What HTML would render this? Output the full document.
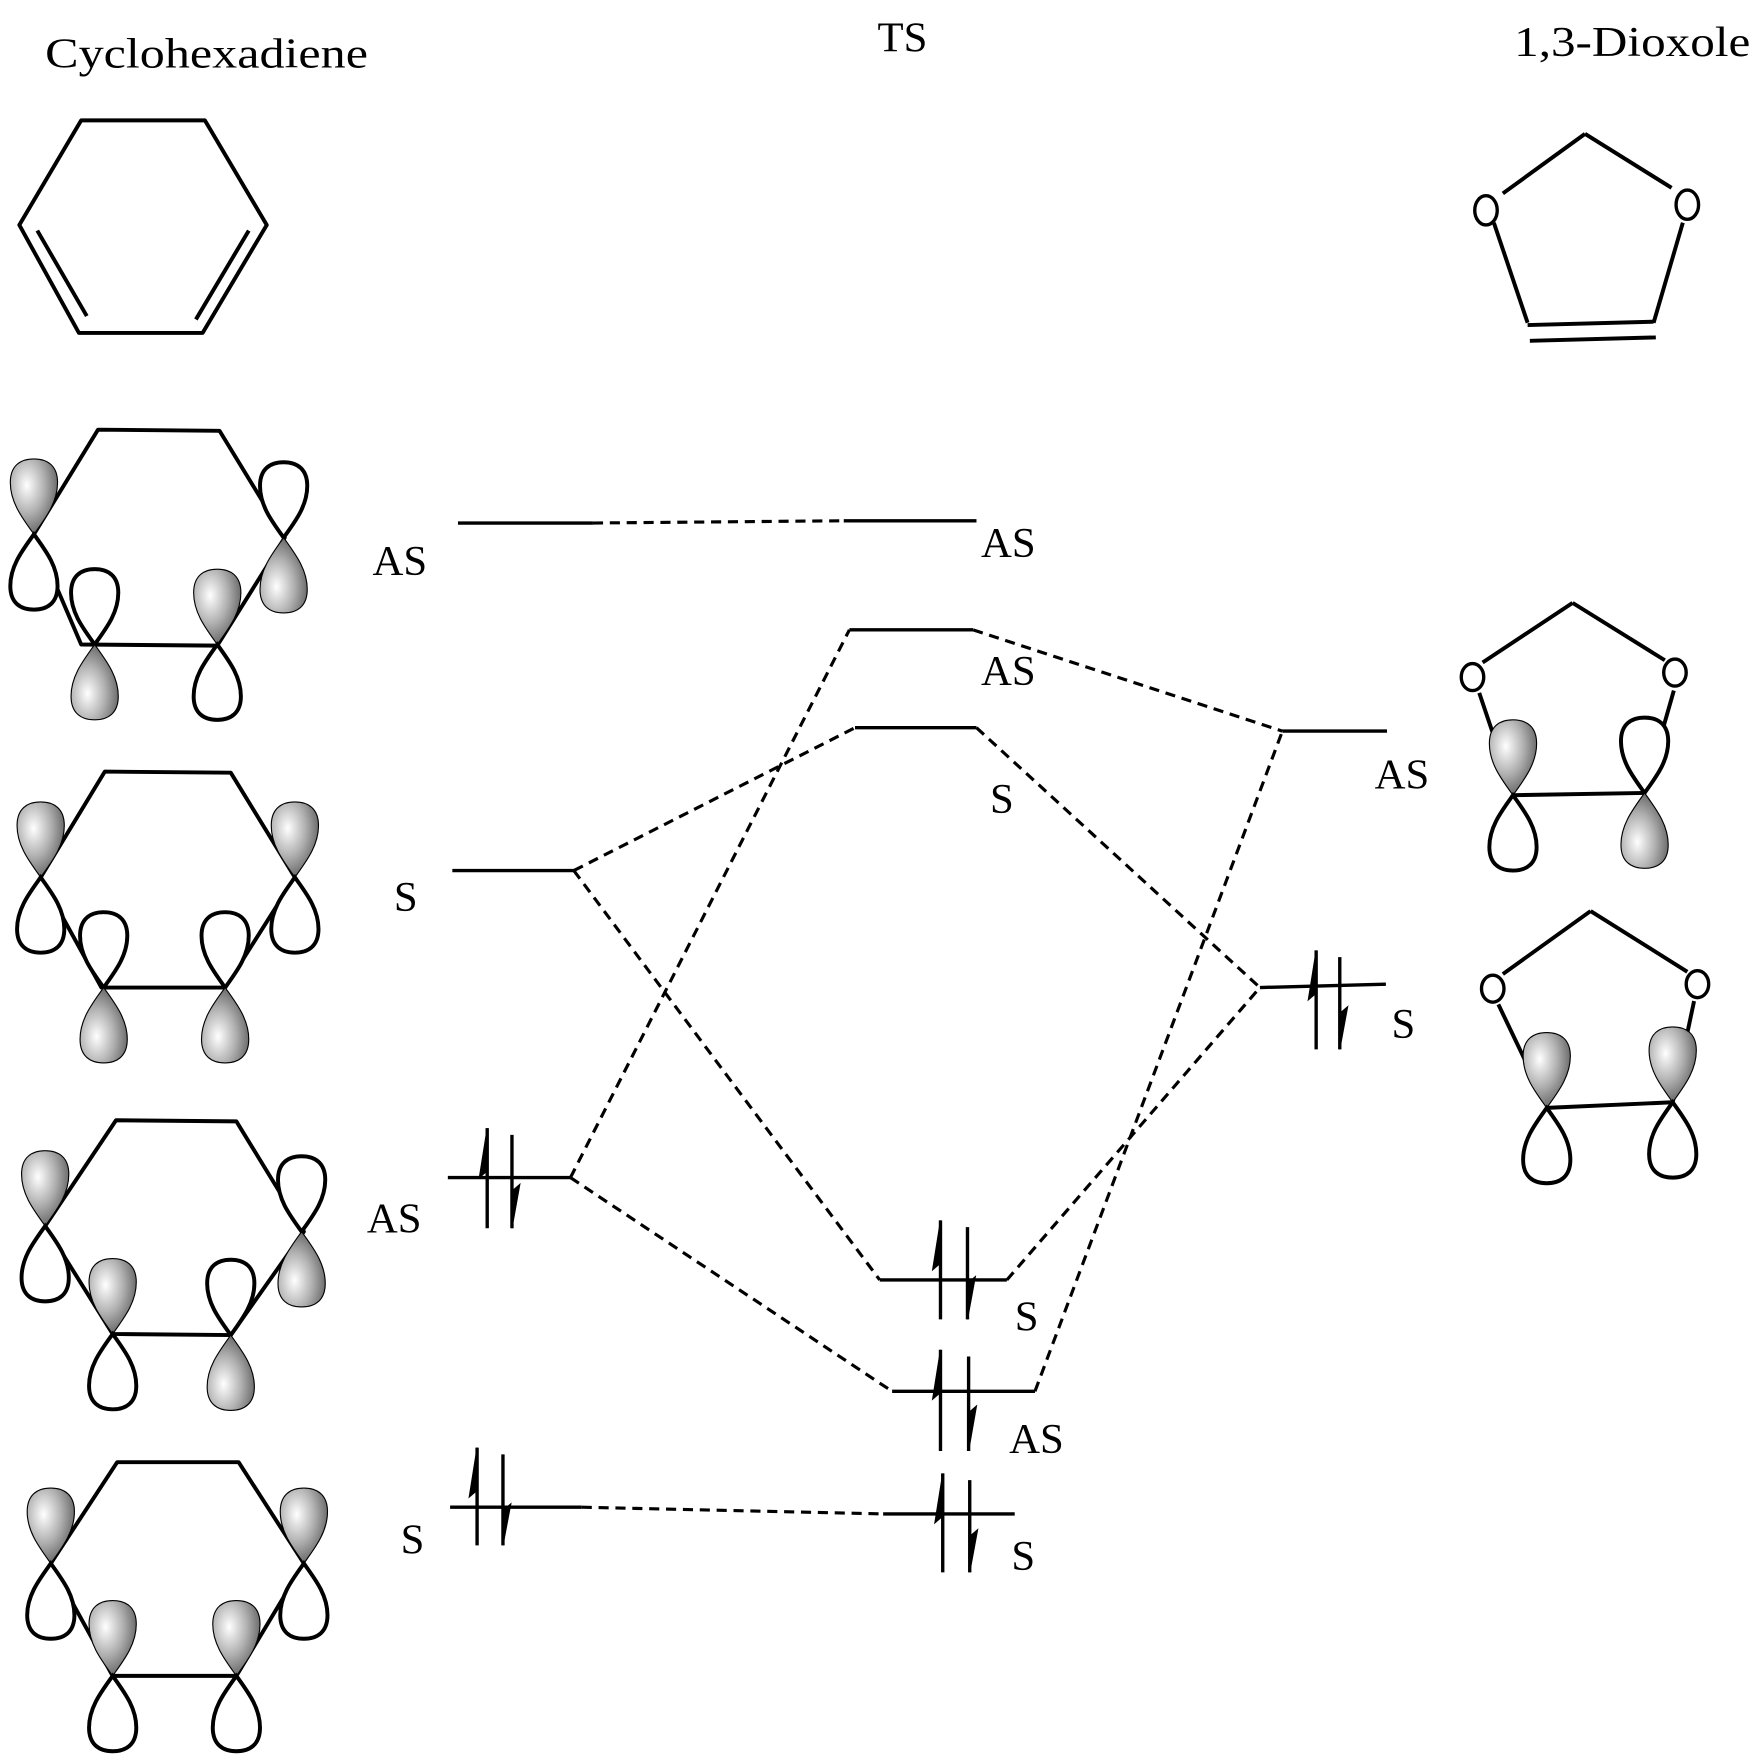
<!DOCTYPE html>
<html><head><meta charset="utf-8"><style>
html,body{margin:0;padding:0;background:#fff;}
svg{display:block;}
text{font-family:"Liberation Serif","Times New Roman",Times,serif;fill:#000;}
</style></head><body>
<svg width="1755" height="1758" viewBox="0 0 1560 1563" xmlns="http://www.w3.org/2000/svg">
<defs>
<radialGradient id="g" cx="0.35" cy="0.35" r="0.75">
<stop offset="0" stop-color="#ffffff"/><stop offset="0.5" stop-color="#b0b0b0"/><stop offset="1" stop-color="#555"/>
</radialGradient>
<path id="lu" d="M0,0 C-10,-14 -21,-28 -21,-46 C-21,-61 -12,-67 0,-67 C12,-67 21,-61 21,-46 C21,-28 10,-14 0,0Z"/>
</defs>
<g font-size="38" font-family="Liberation Serif, Times New Roman, serif">
<text x="40" y="60" textLength="287" lengthAdjust="spacingAndGlyphs">Cyclohexadiene</text>
<text x="780" y="46">TS</text>
<text x="1346" y="50" textLength="210" lengthAdjust="spacingAndGlyphs">1,3-Dioxole</text>
</g>
<g fill="none" stroke="#000" stroke-width="3.5" stroke-linejoin="round">
<polygon points="72,107 182,107 237,200 180,296 70,296 17,200"/>
<line x1="33" y1="205" x2="77" y2="281"/>
<line x1="221" y1="205" x2="174" y2="284"/>
<line x1="1336" y1="172" x2="1409" y2="119"/>
<line x1="1409" y1="119" x2="1486" y2="167"/>
<line x1="1328" y1="198" x2="1358" y2="287"/>
<line x1="1496" y1="198" x2="1470" y2="287"/>
<line x1="1358" y1="289" x2="1470" y2="286"/>
<line x1="1360" y1="303" x2="1472" y2="300"/>
<ellipse cx="1321" cy="187" rx="10" ry="13" stroke-width="3"/>
<ellipse cx="1500" cy="182" rx="10" ry="13" stroke-width="3"/>
<polygon points="87,382 195,383 253,478 193,574 72,573 30,475"/>
<polygon points="93,686 205,687 262,780 200,878 90,878 36,780"/>
<polygon points="103,996 210,997 270,1095 205,1187 100,1186 40,1090"/>
<polygon points="104,1300 212,1300 270,1390 210,1490 100,1490 45,1390"/>
<line x1="1318" y1="589" x2="1398" y2="536"/>
<line x1="1398" y1="536" x2="1480" y2="587"/>
<line x1="1315" y1="616" x2="1345" y2="705"/>
<line x1="1488" y1="614" x2="1462" y2="705"/>
<line x1="1345" y1="707" x2="1462" y2="705"/>
<ellipse cx="1309" cy="602" rx="10" ry="12" stroke-width="3"/>
<ellipse cx="1489" cy="598" rx="10" ry="12" stroke-width="3"/>
<line x1="1336" y1="866" x2="1414" y2="810"/>
<line x1="1414" y1="810" x2="1500" y2="864"/>
<line x1="1332" y1="893" x2="1375" y2="983"/>
<line x1="1506" y1="890" x2="1487" y2="980"/>
<line x1="1375" y1="985" x2="1487" y2="980"/>
<ellipse cx="1327" cy="879" rx="10" ry="12" stroke-width="3"/>
<ellipse cx="1509" cy="875" rx="10" ry="12" stroke-width="3"/>
</g>
<g stroke="#000" stroke-width="3.5">
<use href="#lu" transform="translate(30,475)" fill="url(#g)" stroke-width="1"/>
<use href="#lu" transform="translate(30,475) scale(1,-1)" fill="#fff"/>
<use href="#lu" transform="translate(84,573)" fill="#fff"/>
<use href="#lu" transform="translate(84,573) scale(1,-1)" fill="url(#g)" stroke-width="1"/>
<use href="#lu" transform="translate(193,573)" fill="url(#g)" stroke-width="1"/>
<use href="#lu" transform="translate(193,573) scale(1,-1)" fill="#fff"/>
<use href="#lu" transform="translate(252,478)" fill="#fff"/>
<use href="#lu" transform="translate(252,478) scale(1,-1)" fill="url(#g)" stroke-width="1"/>
<use href="#lu" transform="translate(36,780)" fill="url(#g)" stroke-width="1"/>
<use href="#lu" transform="translate(36,780) scale(1,-1)" fill="#fff"/>
<use href="#lu" transform="translate(92,878)" fill="#fff"/>
<use href="#lu" transform="translate(92,878) scale(1,-1)" fill="url(#g)" stroke-width="1"/>
<use href="#lu" transform="translate(200,878)" fill="#fff"/>
<use href="#lu" transform="translate(200,878) scale(1,-1)" fill="url(#g)" stroke-width="1"/>
<use href="#lu" transform="translate(262,780)" fill="url(#g)" stroke-width="1"/>
<use href="#lu" transform="translate(262,780) scale(1,-1)" fill="#fff"/>
<use href="#lu" transform="translate(40,1090)" fill="url(#g)" stroke-width="1"/>
<use href="#lu" transform="translate(40,1090) scale(1,-1)" fill="#fff"/>
<use href="#lu" transform="translate(100,1186)" fill="url(#g)" stroke-width="1"/>
<use href="#lu" transform="translate(100,1186) scale(1,-1)" fill="#fff"/>
<use href="#lu" transform="translate(205,1187)" fill="#fff"/>
<use href="#lu" transform="translate(205,1187) scale(1,-1)" fill="url(#g)" stroke-width="1"/>
<use href="#lu" transform="translate(268,1095)" fill="#fff"/>
<use href="#lu" transform="translate(268,1095) scale(1,-1)" fill="url(#g)" stroke-width="1"/>
<use href="#lu" transform="translate(45,1390)" fill="url(#g)" stroke-width="1"/>
<use href="#lu" transform="translate(45,1390) scale(1,-1)" fill="#fff"/>
<use href="#lu" transform="translate(100,1490)" fill="url(#g)" stroke-width="1"/>
<use href="#lu" transform="translate(100,1490) scale(1,-1)" fill="#fff"/>
<use href="#lu" transform="translate(210,1490)" fill="url(#g)" stroke-width="1"/>
<use href="#lu" transform="translate(210,1490) scale(1,-1)" fill="#fff"/>
<use href="#lu" transform="translate(270,1390)" fill="url(#g)" stroke-width="1"/>
<use href="#lu" transform="translate(270,1390) scale(1,-1)" fill="#fff"/>
<use href="#lu" transform="translate(1345,707)" fill="url(#g)" stroke-width="1"/>
<use href="#lu" transform="translate(1345,707) scale(1,-1)" fill="#fff"/>
<use href="#lu" transform="translate(1462,705)" fill="#fff"/>
<use href="#lu" transform="translate(1462,705) scale(1,-1)" fill="url(#g)" stroke-width="1"/>
<use href="#lu" transform="translate(1375,985)" fill="url(#g)" stroke-width="1"/>
<use href="#lu" transform="translate(1375,985) scale(1,-1)" fill="#fff"/>
<use href="#lu" transform="translate(1487,980)" fill="url(#g)" stroke-width="1"/>
<use href="#lu" transform="translate(1487,980) scale(1,-1)" fill="#fff"/>
</g>
<g stroke="#000" stroke-width="3">
<line x1="407" y1="465" x2="527" y2="465"/>
<line x1="750" y1="463" x2="868" y2="463"/>
<line x1="755" y1="560" x2="865" y2="560"/>
<line x1="760" y1="647" x2="868" y2="647"/>
<line x1="1140" y1="650" x2="1233" y2="650"/>
<line x1="402" y1="774" x2="510" y2="774"/>
<line x1="1120" y1="878" x2="1232" y2="875"/>
<line x1="398" y1="1047" x2="507" y2="1047"/>
<line x1="782" y1="1138" x2="895" y2="1138"/>
<line x1="793" y1="1237" x2="920" y2="1237"/>
<line x1="400" y1="1340" x2="517" y2="1340"/>
<line x1="785" y1="1346" x2="902" y2="1346"/>
</g>
<g stroke="#000" stroke-width="2.8" stroke-dasharray="9,6" fill="none">
<line x1="527" y1="465" x2="750" y2="463"/>
<line x1="865" y1="560" x2="1140" y2="650"/>
<line x1="868" y1="647" x2="1120" y2="878"/>
<line x1="510" y1="774" x2="760" y2="647"/>
<line x1="510" y1="774" x2="782" y2="1138"/>
<line x1="507" y1="1047" x2="755" y2="560"/>
<line x1="507" y1="1047" x2="793" y2="1237"/>
<line x1="895" y1="1138" x2="1120" y2="878"/>
<line x1="920" y1="1237" x2="1140" y2="650"/>
<line x1="517" y1="1340" x2="785" y2="1346"/>
</g>
<g stroke="#000" stroke-width="3" fill="#000">
<g transform="translate(433,1003)"><line x1="0" y1="0" x2="0" y2="89"/><polygon points="0,0 -7,44 0,38" stroke-width="1"/><line x1="22" y1="6" x2="22" y2="89"/><polygon points="22,89 29,50 22,56" stroke-width="1"/></g>
<g transform="translate(424,1287)"><line x1="0" y1="0" x2="0" y2="87"/><polygon points="0,0 -7,44 0,38" stroke-width="1"/><line x1="23" y1="6" x2="23" y2="87"/><polygon points="23,87 30,50 23,56" stroke-width="1"/></g>
<g transform="translate(836,1085)"><line x1="0" y1="0" x2="0" y2="88"/><polygon points="0,0 -7,44 0,38" stroke-width="1"/><line x1="24" y1="6" x2="24" y2="88"/><polygon points="24,88 31,50 24,56" stroke-width="1"/></g>
<g transform="translate(836,1200)"><line x1="0" y1="0" x2="0" y2="90"/><polygon points="0,0 -7,44 0,38" stroke-width="1"/><line x1="25" y1="6" x2="25" y2="90"/><polygon points="25,90 32,50 25,56" stroke-width="1"/></g>
<g transform="translate(838,1310)"><line x1="0" y1="0" x2="0" y2="88"/><polygon points="0,0 -7,44 0,38" stroke-width="1"/><line x1="24" y1="6" x2="24" y2="88"/><polygon points="24,88 31,50 24,56" stroke-width="1"/></g>
<g transform="translate(1170,845)"><line x1="0" y1="0" x2="0" y2="88"/><polygon points="0,0 -7,44 0,38" stroke-width="1"/><line x1="21" y1="6" x2="21" y2="88"/><polygon points="21,88 28,50 21,56" stroke-width="1"/></g>
</g>
<g font-size="38" font-family="Liberation Serif, Times New Roman, serif">
<text x="331" y="511">AS</text>
<text x="872" y="495">AS</text>
<text x="872" y="609">AS</text>
<text x="880" y="723">S</text>
<text x="1222" y="701">AS</text>
<text x="350" y="810">S</text>
<text x="1237" y="923">S</text>
<text x="326" y="1096">AS</text>
<text x="902" y="1183">S</text>
<text x="897" y="1292">AS</text>
<text x="356" y="1381">S</text>
<text x="899" y="1396">S</text>
</g>
</svg>
</body></html>
